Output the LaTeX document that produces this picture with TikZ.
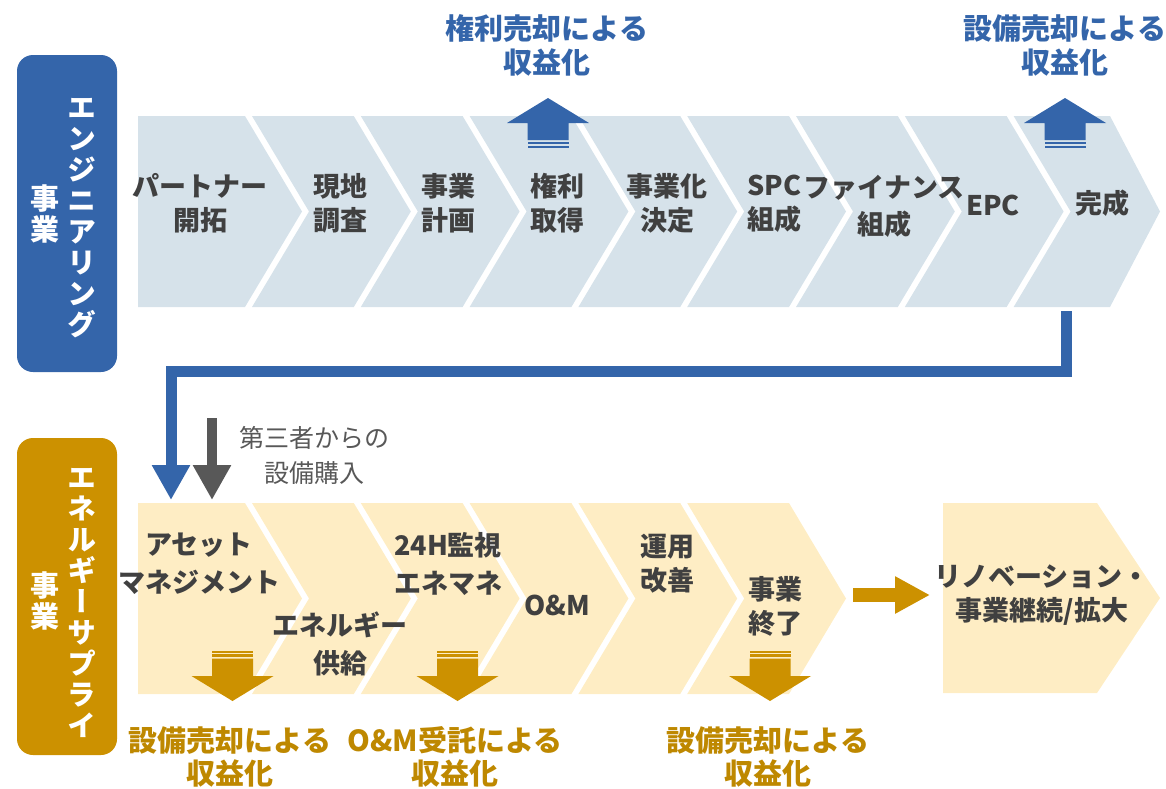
\documentclass[tikz,border=0pt]{standalone}
\usepackage{fontspec}
\setmainfont{Noto Sans CJK JP}
\newfontfamily\vfont[RawFeature=+vert]{Noto Sans CJK JP}
\usetikzlibrary{arrows.meta}
\definecolor{bluec}{RGB}{52,101,170}
\definecolor{goldc}{RGB}{204,145,0}
\definecolor{goldt}{RGB}{190,136,0}
\definecolor{topfill}{RGB}{214,226,234}
\definecolor{botfill}{RGB}{254,237,196}
\definecolor{txtc}{RGB}{64,64,64}
\definecolor{grayc}{RGB}{88,88,88}
\newcommand\revup[1]{%
  \fill[bluec] (#1,98) -- (#1+41,123) -- (#1+20.5,123) -- (#1+20.5,140) -- (#1-20.5,140) -- (#1-20.5,123) -- (#1-41,123) -- cycle;
  \fill[bluec] (#1-20.5,142.3) rectangle (#1+20.5,144.3);
  \fill[bluec] (#1-20.5,146) rectangle (#1+20.5,148);
}
\newcommand\revdown[1]{%
  \fill[goldc] (#1,701) -- (#1+41,676) -- (#1+20.5,676) -- (#1+20.5,658.7) -- (#1-20.5,658.7) -- (#1-20.5,676) -- (#1-41,676) -- cycle;
  \fill[goldc] (#1-20.5,654.3) rectangle (#1+20.5,656.5);
  \fill[goldc] (#1-20.5,651) rectangle (#1+20.5,652.8);
}
\tikzset{
  steptext/.style={text=txtc, font=\bfseries\fontsize{27}{34}\selectfont, align=center, inner sep=0pt},
  revblue/.style={text=bluec, font=\bfseries\fontsize{29}{34}\selectfont, align=center, inner sep=0pt},
  revgold/.style={text=goldt, font=\bfseries\fontsize{29}{33}\selectfont, align=center, inner sep=0pt},
  vlabel/.style={text=white, font=\vfont\bfseries\fontsize{29}{31}\selectfont, align=center, inner sep=0pt},
  sidebox/.style={rounded corners=16pt, inner sep=0pt, minimum width=100pt},
  flow/.style={line width=#1, -{Triangle[length=35pt,width=36pt]}},
}
\begin{document}
\begin{tikzpicture}[x=1pt,y=-1pt]
\useasboundingbox (0,0) rectangle (1166,788);
% top chevrons
\foreach \k in {1,...,8} {
  \pgfmathsetmacro\tip{302+(\k-1)*108.8}
  \pgfmathsetmacro\rt{\tip-57}
  \pgfmathsetmacro\lt{\k==1 ? 138 : \rt-108.8+7}
  \pgfmathsetmacro\nt{\k==1 ? 138 : \tip-108.8+7}
  \fill[topfill] (\lt,116) -- (\rt,116) -- (\tip,211.5) -- (\rt,307) -- (\lt,307) -- (\nt,211.5) -- cycle;
}
\fill[topfill] (1013.6,116) -- (1110,116) -- (1160,211.5) -- (1110,307) -- (1013.6,307) -- (1070.6,211.5) -- cycle;
% bottom chevrons
\foreach \k in {1,...,6} {
  \pgfmathsetmacro\tip{302+(\k-1)*108.8}
  \pgfmathsetmacro\rt{\tip-57}
  \pgfmathsetmacro\lt{\k==1 ? 138 : \rt-108.8+7}
  \pgfmathsetmacro\nt{\k==1 ? 138 : \tip-108.8+7}
  \fill[botfill] (\lt,503) -- (\rt,503) -- (\tip,598.5) -- (\rt,694) -- (\lt,694) -- (\nt,598.5) -- cycle;
}
\fill[botfill] (943,503) -- (1097,503) -- (1160,598) -- (1097,693) -- (943,693) -- cycle;

% side boxes
\node[sidebox, fill=bluec, minimum height=317pt] (eng) at (67,213.5) {};
\node[sidebox, fill=goldc, minimum height=317pt] (sup) at (67,596.5) {};
\node[vlabel] (engA) at (82,218.5) {エ\\ン\\ジ\\ニ\\ア\\リ\\ン\\グ};
\node[vlabel] (engB) at (45,213.5) {事\\業};
\node[vlabel] (supA) at (82,603) {エ\\ネ\\ル\\ギ\\ー\\サ\\プ\\ラ\\イ};
\node[vlabel] (supB) at (45,601) {事\\業};

% revenue arrows
\revup{548}
\revup{1065}
\revdown{232.5}
\revdown{457.5}
\revdown{770}

% connectors
\coordinate (doneB) at (1066,311);
\coordinate (c1) at (1066,371);
\coordinate (c2) at (171,371);
\coordinate (assetT) at (171,500);
\draw[bluec, flow=11pt] (doneB) -- (c1) -- (c2) -- (assetT);
\coordinate (buyS) at (212,418);
\coordinate (buyE) at (212,500);
\draw[grayc, flow=10pt] (buyS) -- (buyE);
\coordinate (endR) at (853,595);
\coordinate (renoL) at (930,595);
\draw[goldc, line width=14pt, -{Triangle[length=35pt,width=35pt]}] (endR) -- (renoL);

% third party text
\node[text=grayc, font=\fontsize{25}{35}\selectfont, align=center, inner sep=0pt] (buy) at (314,455) {第三者からの\\設備購入};

% revenue labels
\node[revblue] (rv1) at (547,45) {権利売却による\\収益化};
\node[revblue] (rv2) at (1065,45) {設備売却による\\収益化};
\node[revgold] (rv3) at (230,757) {設備売却による\\収益化};
\node[revgold] (rv4) at (455,757) {O\&M受託による\\収益化};
\node[revgold] (rv5) at (768,757) {設備売却による\\収益化};

% top step texts
\node[steptext] (t1) at (200,203.5) {パートナー\\開拓};
\node[steptext] (t2) at (340,203.5) {現地\\調査};
\node[steptext] (t3) at (448,203.5) {事業\\計画};
\node[steptext] (t4) at (557,203.5) {権利\\取得};
\node[steptext] (t5) at (667,203.5) {事業化\\決定};
\node[steptext, align=left, anchor=west] (t6) at (747,203.5) {SPC\\組成};
\node[steptext] (t7) at (884,206) {ファイナンス\\[3pt]組成};
\node[steptext] (t8) at (993,205) {EPC};
\node[steptext] (t9) at (1102,203) {完成};

% bottom step texts
\node[steptext] (b1) at (199,564) {アセット\\[4pt]マネジメント};
\node[steptext] (b2) at (340,644) {エネルギー\\[4pt]供給};
\node[steptext] (b3) at (448,564) {24H監視\\[4pt]エネマネ};
\node[steptext] (b4) at (557,605) {O\&M};
\node[steptext] (b5) at (667,563.5) {運用\\改善};
\node[steptext] (b6) at (775,606.5) {事業\\終了};
\node[steptext] (b7) at (1042,595) {リノベーション・\\事業継続/拡大};
\end{tikzpicture}
\end{document}
